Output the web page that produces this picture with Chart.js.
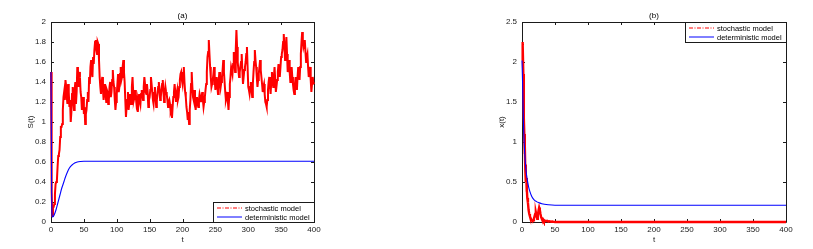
<!DOCTYPE html>
<html>
<head>
  <title>S(t) and x(t): stochastic vs deterministic</title>
  <script src="https://cdn.jsdelivr.net/npm/chart.js"></script>
  <style>
    body { margin: 0; background: #fff; width: 813px; height: 249px; position: relative; overflow: hidden; }
    canvas { position: absolute; top: 0; }
    #chartA { left: 0; }
    #chartB { left: 407px; }
  </style>
</head>
<body>
  <canvas id="chartA" width="400" height="249"></canvas>
  <canvas id="chartB" width="406" height="249"></canvas>

  <script>
    // ---- data ----
    // (a) stochastic S(t) at even times t = 0, 2, ..., 400
    const stochSEven = [
      1.50, 0.06, 0.15, 0.28, 0.40, 0.55, 0.68, 0.85, 0.95, 1.12,
      1.30, 1.42, 1.25, 1.38, 1.15, 1.00, 1.28, 1.20, 1.32, 1.18,
      1.55, 1.35, 1.45, 1.25, 1.18, 1.08, 0.98, 1.12, 1.30, 1.45,
      1.55, 1.50, 1.65, 1.72, 1.82, 1.68, 1.78, 1.45, 1.28, 1.45,
      1.22, 1.38, 1.20, 1.30, 1.22, 1.40, 1.30, 1.52, 1.35, 1.12,
      1.28, 1.48, 1.35, 1.55, 1.45, 1.62, 1.40, 1.05, 1.22, 1.12,
      1.28, 1.18, 1.45, 1.22, 1.32, 1.18, 1.10, 1.28, 1.18, 1.32,
      1.22, 1.45, 1.30, 1.38, 1.15, 1.25, 1.45, 1.30, 1.18, 1.35,
      1.15, 1.28, 1.40, 1.22, 1.32, 1.42, 1.20, 1.35, 1.28, 1.15,
      1.22, 1.10, 1.04, 1.25, 1.38, 1.20, 1.32, 1.25, 1.42, 1.50,
      1.38, 1.55, 1.30, 1.15, 1.02, 0.98, 1.22, 1.50, 1.25, 1.32,
      1.12, 1.25, 1.15, 1.28, 1.20, 1.30, 1.15, 1.25, 1.38, 1.65,
      1.82, 1.55, 1.35, 1.42, 1.55, 1.32, 1.45, 1.28, 1.50, 1.35,
      1.45, 1.62, 1.40, 1.22, 1.30, 1.12, 1.38, 1.55, 1.48, 1.70,
      1.50, 1.92, 1.60, 1.45, 1.55, 1.68, 1.38, 1.52, 1.60, 1.75,
      1.35, 1.28, 1.40, 1.25, 1.50, 1.72, 1.55, 1.35, 1.48, 1.62,
      1.45, 1.30, 1.38, 1.20, 1.15, 1.32, 1.45, 1.28, 1.50, 1.35,
      1.55, 1.30, 1.42, 1.58, 1.45, 1.65, 1.72, 1.88, 1.62, 1.85,
      1.50, 1.62, 1.40, 1.55, 1.38, 1.28, 1.45, 1.32, 1.55, 1.42,
      1.68, 1.90, 1.75, 1.82, 1.60, 1.68, 1.45, 1.55, 1.30, 1.45,
      1.38
    ];
    // (a) stochastic S(t) at odd times t = 1, 3, ..., 399
    const stochSOdd = [
      0.30, 0.14, 0.18, 0.38, 0.42, 0.66, 0.72, 0.95, 0.98, 1.25,
      1.22, 1.36, 1.18, 1.30, 1.22, 1.10, 1.35, 1.12, 1.40, 1.30,
      1.42, 1.50, 1.30, 1.12, 1.25, 1.15, 1.08, 1.22, 1.20, 1.38,
      1.62, 1.45, 1.58, 1.80, 1.72, 1.80, 1.62, 1.35, 1.40, 1.32,
      1.30, 1.28, 1.32, 1.18, 1.35, 1.25, 1.42, 1.40, 1.22, 1.20,
      1.38, 1.30, 1.48, 1.42, 1.55, 1.50, 1.22, 1.15, 1.30, 1.18,
      1.20, 1.35, 1.30, 1.25, 1.25, 1.22, 1.18, 1.22, 1.28, 1.28,
      1.35, 1.38, 1.28, 1.30, 1.22, 1.32, 1.38, 1.22, 1.28, 1.25,
      1.22, 1.35, 1.32, 1.25, 1.38, 1.30, 1.28, 1.30, 1.22, 1.20,
      1.18, 1.12, 1.15, 1.30, 1.30, 1.28, 1.22, 1.35, 1.48, 1.42,
      1.48, 1.40, 1.25, 1.10, 1.08, 1.12, 1.38, 1.35, 1.22, 1.25,
      1.20, 1.18, 1.22, 1.25, 1.24, 1.22, 1.20, 1.32, 1.50, 1.70,
      1.68, 1.45, 1.38, 1.48, 1.42, 1.38, 1.35, 1.40, 1.42, 1.40,
      1.52, 1.50, 1.30, 1.25, 1.20, 1.25, 1.45, 1.52, 1.58, 1.62,
      1.72, 1.75, 1.52, 1.50, 1.60, 1.52, 1.45, 1.55, 1.68, 1.55,
      1.32, 1.35, 1.32, 1.38, 1.60, 1.62, 1.45, 1.42, 1.55, 1.52,
      1.38, 1.35, 1.28, 1.18, 1.22, 1.40, 1.35, 1.40, 1.42, 1.45,
      1.42, 1.36, 1.50, 1.52, 1.55, 1.68, 1.80, 1.75, 1.72, 1.68,
      1.55, 1.50, 1.48, 1.45, 1.32, 1.38, 1.38, 1.45, 1.48, 1.55,
      1.80, 1.82, 1.78, 1.70, 1.65, 1.55, 1.50, 1.42, 1.38, 1.40
    ];
    // (a) deterministic S(t)
    const tDetS = [0, 1, 2, 4, 6, 8, 10, 12, 14, 16, 18, 20, 22, 25, 28, 32, 36, 40, 45, 50, 400];
    const detS  = [1.5, 0.3, 0.05, 0.06, 0.09, 0.13, 0.18, 0.23, 0.28, 0.33, 0.37, 0.41, 0.45, 0.5, 0.54, 0.57, 0.59, 0.6, 0.605, 0.607, 0.607];

    // (b) stochastic x(t)
    const tStochX = [0, 0.5, 1, 1.5, 2, 2.5, 3, 3.5, 4, 4.5, 5, 5.5, 6, 6.5, 7, 7.5, 8,
                     9, 10, 11, 12, 13, 14, 15, 16, 17, 18, 19, 20, 21, 22, 23, 24, 25, 26,
                     27, 28, 29, 30, 31, 32, 33, 34, 36, 38, 40, 42, 44, 46, 48, 50, 60, 100, 200, 300, 400];
    const stochX  = [2.02, 2.25, 2.15, 2.22, 1.85, 1.55, 1.30, 1.10, 0.85, 0.95, 0.65, 0.72, 0.50, 0.55, 0.38, 0.42, 0.30,
                     0.24, 0.15, 0.10, 0.07, 0.05, 0.03, 0.02, 0.01, 0.02, 0.04, 0.07, 0.10, 0.12, 0.08, 0.04, 0.08, 0.14, 0.18,
                     0.15, 0.10, 0.06, 0.04, 0.02, 0.03, 0.01, 0.02, 0.01, 0.015, 0.005, 0.01, 0.003, 0.006, 0.002, 0, 0, 0, 0, 0, 0];
    // (b) deterministic x(t)
    const tDetX = [0, 1, 2, 3, 4, 5, 6, 8, 10, 12, 15, 18, 22, 26, 30, 40, 50, 400];
    const detX  = [2.02, 1.7, 1.3, 1.05, 0.88, 0.75, 0.65, 0.53, 0.44, 0.38, 0.315, 0.28, 0.255, 0.24, 0.228, 0.215, 0.21, 0.21];

    const seriesNames = ['stochastic model', 'deterministic model'];
    const xTicksStep = 50;

    // ---- helpers ----
    const FONT = 'Liberation Sans, Arial, Helvetica, sans-serif';
    const INK = '#1a1a1a';
    const RED = '#ff0000';
    const BLUE = '#0000ff';

    const pts = (xs, ys) => ys.map((v, i) => ({ x: xs[i], y: v }));

    // S(t): interleave even and odd samples
    const stochSPts = [];
    stochSEven.forEach((v, i) => {
      stochSPts.push({ x: 2 * i, y: v });
      if (i < stochSOdd.length) stochSPts.push({ x: 2 * i + 1, y: stochSOdd[i] });
    });

    // box and inward ticks under the data, title and legend on top
    const matlabAxes = {
      id: 'matlabAxes',
      beforeDatasetsDraw(chart) {
        const { ctx, chartArea: a, scales: { x, y } } = chart;
        ctx.save();
        ctx.strokeStyle = INK;
        ctx.lineWidth = 1;
        ctx.beginPath();
        ctx.rect(Math.round(a.left) + 0.5, Math.round(a.top) + 0.5,
                 Math.round(a.right - a.left), Math.round(a.bottom - a.top));
        x.ticks.forEach(t => {
          const px = Math.round(x.getPixelForValue(t.value)) + 0.5;
          ctx.moveTo(px, a.bottom); ctx.lineTo(px, a.bottom - 3);
          ctx.moveTo(px, a.top); ctx.lineTo(px, a.top + 3);
        });
        y.ticks.forEach(t => {
          const py = Math.round(y.getPixelForValue(t.value)) + 0.5;
          ctx.moveTo(a.left, py); ctx.lineTo(a.left + 3, py);
          ctx.moveTo(a.right, py); ctx.lineTo(a.right - 3, py);
        });
        ctx.stroke();
        ctx.restore();
      },
      afterDatasetsDraw(chart, args, opts) {
        const { ctx, chartArea: a } = chart;
        ctx.save();
        ctx.fillStyle = '#000';
        ctx.font = '8px ' + FONT;
        ctx.textAlign = 'center';
        ctx.textBaseline = 'middle';
        ctx.fillText(opts.title, (a.left + a.right) / 2, a.top - 6);

        // legend
        ctx.font = '7.5px ' + FONT;
        const textW = Math.max(...seriesNames.map(s => ctx.measureText(s).width));
        const w = Math.round(32 + textW + 4), h = 20;
        const bx = Math.round(a.right) - w;
        const by = opts.legendAt === 'bottom' ? Math.round(a.bottom) - h : Math.round(a.top);
        ctx.fillStyle = '#fff';
        ctx.fillRect(bx + 0.5, by + 0.5, w, h);
        ctx.strokeStyle = INK;
        ctx.lineWidth = 1;
        ctx.strokeRect(bx + 0.5, by + 0.5, w, h);
        const rows = [by + 5.5, by + 14.5];
        const styles = [{ c: RED, d: [4, 1.5, 1, 1.5] }, { c: BLUE, d: [] }];
        rows.forEach((ry, i) => {
          ctx.beginPath();
          ctx.strokeStyle = styles[i].c;
          ctx.setLineDash(styles[i].d);
          ctx.moveTo(bx + 4, ry + 0.5);
          ctx.lineTo(bx + 29, ry + 0.5);
          ctx.stroke();
          ctx.setLineDash([]);
          ctx.fillStyle = '#000';
          ctx.textAlign = 'left';
          ctx.textBaseline = 'middle';
          ctx.fillText(seriesNames[i], bx + 32, ry + 1);
        });
        ctx.restore();
      }
    };

    function makeChart(id, cfg) {
      const tickFont = { family: FONT, size: 8 };
      return new Chart(document.getElementById(id), {
        type: 'line',
        data: {
          datasets: [
            { label: seriesNames[1], data: cfg.det, borderColor: BLUE, borderWidth: 1.1,
              cubicInterpolationMode: 'monotone', pointRadius: 0, clip: 4 },
            { label: seriesNames[0], data: cfg.stoch, borderColor: RED, borderWidth: cfg.redWidth,
              tension: 0, pointRadius: 0, clip: 4 }
          ]
        },
        options: {
          responsive: false,
          animation: false,
          events: [],
          layout: { padding: cfg.padding },
          plugins: {
            legend: { display: false },
            tooltip: { enabled: false },
            matlabAxes: { title: cfg.title, legendAt: cfg.legendAt }
          },
          scales: {
            x: {
              type: 'linear', min: 0, max: 400,
              ticks: { stepSize: xTicksStep, font: tickFont, color: INK, padding: 3, maxRotation: 0 },
              grid: { display: false, drawTicks: false },
              border: { display: false },
              title: { display: true, text: 't', font: tickFont, color: INK, padding: 0 },
              afterFit(s) { s.height = 23; }
            },
            y: {
              type: 'linear', min: 0, max: cfg.yMax,
              ticks: { stepSize: cfg.yStep, font: tickFont, color: INK, padding: 5,
                       callback: v => String(+Number(v).toFixed(2)) },
              grid: { display: false, drawTicks: false },
              border: { display: false },
              title: { display: true, text: cfg.yTitle, font: tickFont, color: INK, padding: 0 },
              afterFit(s) { s.width = 25; }
            }
          }
        },
        plugins: [matlabAxes]
      });
    }

    makeChart('chartA', {
      title: '(a)', yTitle: 'S(t)', yMax: 2, yStep: 0.2, legendAt: 'bottom', redWidth: 2,
      padding: { left: 26, right: 86, top: 22, bottom: 4 },
      det: pts(tDetS, detS),
      stoch: stochSPts
    });

    makeChart('chartB', {
      title: '(b)', yTitle: 'x(t)', yMax: 2.5, yStep: 0.5, legendAt: 'top', redWidth: 2.4,
      padding: { left: 90, right: 27, top: 22, bottom: 4 },
      det: pts(tDetX, detX),
      stoch: pts(tStochX, stochX)
    });
  </script>
</body>
</html>
